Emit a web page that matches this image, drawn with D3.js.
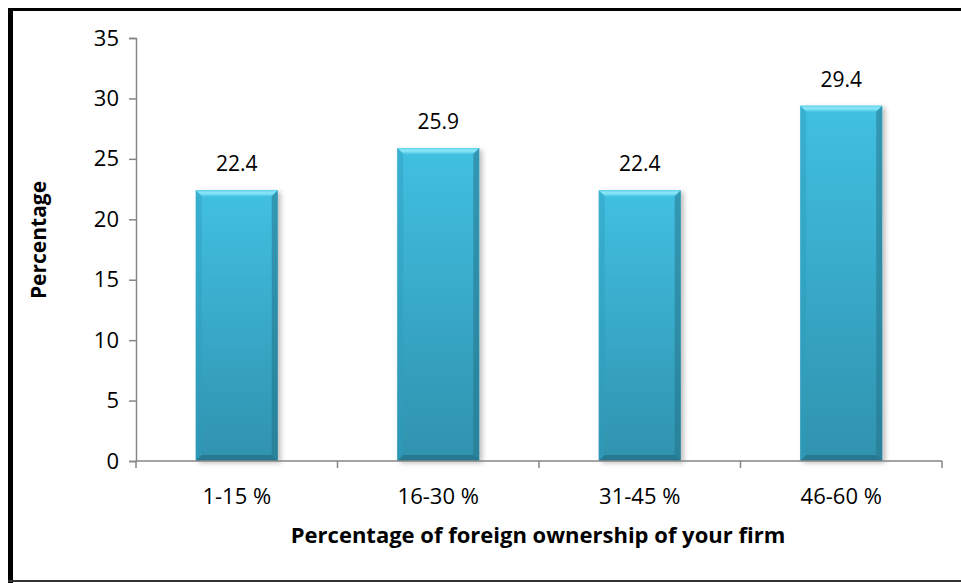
<!DOCTYPE html>
<html>
<head>
<meta charset="utf-8">
<script src="https://cdn.jsdelivr.net/npm/d3@7"></script>
<style>
  html, body { margin: 0; padding: 0; background: #fff; }
  svg { display: block; }
  text { font-family: "Open Sans", "Noto Sans", sans-serif; fill: #000; }
</style>
</head>
<body>
<svg id="chart" width="961" height="583"></svg>
<script>
// Share of firms by percentage of foreign ownership
const categories = ["1-15 %", "16-30 %", "31-45 %", "46-60 %"];
const values = [22.4, 25.9, 22.4, 29.4];
const yTicks = [0, 5, 10, 15, 20, 25, 30, 35];
const xTitle = "Percentage of foreign ownership of your firm";
const yTitle = "Percentage";

const W = 961, H = 583;
const plot = { left: 136, right: 942, top: 38, bottom: 461 };

const svg = d3.select("#chart");

// frame around the chart area
svg.append("line").attr("x1", 10.5).attr("x2", 10.5).attr("y1", 8).attr("y2", 583)
  .attr("stroke", "#000").attr("stroke-width", 5);
svg.append("line").attr("x1", 8).attr("x2", W).attr("y1", 9.5).attr("y2", 9.5)
  .attr("stroke", "#000").attr("stroke-width", 3);
svg.append("line").attr("x1", 8).attr("x2", W).attr("y1", 581).attr("y2", 581)
  .attr("stroke", "#333").attr("stroke-width", 2);

const x = d3.scaleBand().domain(categories)
  .range([plot.left, plot.right])
  .paddingInner(0.593).paddingOuter(0.2965);
const y = d3.scaleLinear().domain([0, 35]).range([plot.bottom, plot.top]);

const defs = svg.append("defs");
const face = defs.append("linearGradient").attr("id", "face")
  .attr("x1", 0).attr("y1", 0).attr("x2", 0).attr("y2", 1);
face.append("stop").attr("offset", "0%").attr("stop-color", "#41c0e2");
face.append("stop").attr("offset", "100%").attr("stop-color", "#2f92ae");
const topG = defs.append("linearGradient").attr("id", "topBevel")
  .attr("x1", 0).attr("y1", 0).attr("x2", 0).attr("y2", 1);
topG.append("stop").attr("offset", "0%").attr("stop-color", "#5fd3ee");
topG.append("stop").attr("offset", "45%").attr("stop-color", "#8de8f7");
topG.append("stop").attr("offset", "100%").attr("stop-color", "#4cc6e6");
const shadow = defs.append("filter").attr("id", "shadow")
  .attr("x", "-20%").attr("y", "-5%").attr("width", "150%").attr("height", "115%");
shadow.append("feDropShadow").attr("dx", 3).attr("dy", 2).attr("stdDeviation", 2.5)
  .attr("flood-color", "#000").attr("flood-opacity", 0.25);

// y axis
const yAxis = svg.append("g").attr("transform", `translate(${plot.left},0)`)
  .call(d3.axisLeft(y).tickValues(yTicks).tickSize(7).tickPadding(10).tickFormat(d3.format("d")));
yAxis.select(".domain").attr("stroke", "#868686").attr("stroke-width", 1.5);
yAxis.selectAll(".tick line").attr("stroke", "#868686").attr("stroke-width", 1.5);
yAxis.selectAll(".tick text").style("font-size", "22px").attr("fill", "#000");

// bars with bevelled edges
const bev = 6;
const bars = svg.append("g").selectAll("g.bar").data(values).join("g")
  .attr("class", "bar").attr("filter", "url(#shadow)");
bars.each(function (v, i) {
  const g = d3.select(this);
  const x0 = x(categories[i]), x1 = x0 + x.bandwidth();
  const y0 = y(v), y1 = y(0);
  g.append("rect").attr("x", x0).attr("y", y0).attr("width", x1 - x0).attr("height", y1 - y0)
    .attr("fill", "url(#face)");
  // top bevel
  g.append("polygon").attr("points",
    [[x0, y0], [x1, y0], [x1 - bev, y0 + bev], [x0 + bev, y0 + bev]].map(p => p.join(",")).join(" "))
    .attr("fill", "url(#topBevel)");
  // left bevel
  g.append("polygon").attr("points",
    [[x0, y0], [x0 + bev, y0 + bev], [x0 + bev, y1 - bev], [x0, y1]].map(p => p.join(",")).join(" "))
    .attr("fill", "#2f9dbc").attr("opacity", 0.45);
  // right bevel
  g.append("polygon").attr("points",
    [[x1, y0], [x1 - bev, y0 + bev], [x1 - bev, y1 - bev], [x1, y1]].map(p => p.join(",")).join(" "))
    .attr("fill", "#236f86").attr("opacity", 0.5);
  // bottom bevel
  g.append("polygon").attr("points",
    [[x0, y1], [x0 + bev, y1 - bev], [x1 - bev, y1 - bev], [x1, y1]].map(p => p.join(",")).join(" "))
    .attr("fill", "#1f6579").attr("opacity", 0.55);
});

// x axis: line with ticks at category boundaries
const xAxis = svg.append("g");
xAxis.append("line").attr("x1", plot.left).attr("x2", plot.right)
  .attr("y1", plot.bottom).attr("y2", plot.bottom)
  .attr("stroke", "#868686").attr("stroke-width", 1.5);
const bounds = categories.map(c => x(c) + x.bandwidth() / 2 - x.step() / 2);
bounds.push(plot.right);
xAxis.selectAll("line.tk").data(bounds).join("line").attr("class", "tk")
  .attr("x1", d => d).attr("x2", d => d)
  .attr("y1", plot.bottom).attr("y2", plot.bottom + 7)
  .attr("stroke", "#868686").attr("stroke-width", 1.5);
xAxis.selectAll("text").data(categories).join("text")
  .attr("x", d => x(d) + x.bandwidth() / 2).attr("y", 504)
  .attr("text-anchor", "middle").style("font-size", "22px").text(d => d);

// value labels
svg.append("g").selectAll("text").data(values).join("text")
  .attr("x", (d, i) => x(categories[i]) + x.bandwidth() / 2)
  .attr("y", d => y(d) - 19)
  .attr("text-anchor", "middle").style("font-size", "21px")
  .text(d => d3.format(".1f")(d));

// axis titles
svg.append("text").attr("x", 538).attr("y", 543)
  .attr("text-anchor", "middle").style("font-size", "22px").style("font-weight", "bold")
  .text(xTitle);
svg.append("text").attr("transform", "translate(46,240) rotate(-90)")
  .attr("text-anchor", "middle").style("font-size", "21px").style("font-weight", "bold")
  .text(yTitle);
</script>
</body>
</html>
